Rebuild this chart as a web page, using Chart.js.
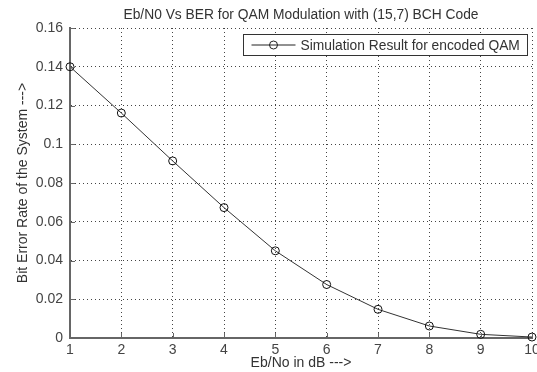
<!DOCTYPE html>
<html>
<head>
<meta charset="utf-8">
<script src="https://cdn.jsdelivr.net/npm/chart.js@4/dist/chart.umd.min.js"></script>
<style>
  html, body { margin: 0; padding: 0; background: #ffffff; }
  #wrap { width: 537px; height: 372px; }
</style>
</head>
<body>
<div id="wrap"><canvas id="c" width="537" height="372"></canvas></div>
<script>
const ebNoDb = [1, 2, 3, 4, 5, 6, 7, 8, 9, 10];
const berValues = [0.140, 0.1161, 0.0914, 0.0673, 0.0450, 0.0276, 0.0148, 0.0062, 0.0019, 0.0005];
const xTickLabels = ['1', '2', '3', '4', '5', '6', '7', '8', '9', '10'];
const yTickValues = [0, 0.02, 0.04, 0.06, 0.08, 0.1, 0.12, 0.14, 0.16];
const yTickLabels = ['0', '0.02', '0.04', '0.06', '0.08', '0.1', '0.12', '0.14', '0.16'];
const seriesLabel = 'Simulation Result for encoded QAM';
const chartTitle = 'Eb/N0 Vs BER for QAM Modulation with (15,7) BCH Code';
const xTitle = 'Eb/No in dB --->';
const yTitle = 'Bit Error Rate of the System --->';

const FONT = 'Arial, "Liberation Sans", sans-serif';
const TEXT = '#333333';

const extras = {
  id: 'extras',
  afterDraw(chart) {
    const ctx = chart.ctx;
    const a = chart.chartArea;
    const xs = chart.scales.x, ys = chart.scales.y;
    ctx.save();
    // inward tick marks (MATLAB style)
    ctx.strokeStyle = '#666666';
    ctx.lineWidth = 1;
    ctx.beginPath();
    ebNoDb.forEach(v => {
      const px = Math.round(xs.getPixelForValue(v)) + 0.5;
      ctx.moveTo(px, a.bottom);
      ctx.lineTo(px, a.bottom - 5);
    });
    yTickValues.forEach(v => {
      const py = Math.round(ys.getPixelForValue(v)) + 0.5;
      ctx.moveTo(a.left, py);
      ctx.lineTo(a.left + 5, py);
    });
    ctx.stroke();

    // title centred over the plot area
    ctx.fillStyle = TEXT;
    ctx.font = '13.8px ' + FONT;
    ctx.textAlign = 'center';
    ctx.textBaseline = 'alphabetic';
    ctx.fillText(chartTitle, (a.left + a.right) / 2, 19);

    // legend box inside the axes
    const x0 = 243.5, y0 = 34.5, w = 284, h = 21;
    ctx.fillStyle = '#ffffff';
    ctx.fillRect(x0, y0, w, h);
    ctx.strokeStyle = '#333333';
    ctx.lineWidth = 1;
    ctx.strokeRect(x0, y0, w, h);
    const cy = y0 + h / 2;
    ctx.strokeStyle = '#222222';
    ctx.beginPath();
    ctx.moveTo(x0 + 8, cy);
    ctx.lineTo(x0 + 52, cy);
    ctx.stroke();
    ctx.beginPath();
    ctx.arc(x0 + 30, cy, 4, 0, Math.PI * 2);
    ctx.stroke();
    ctx.fillStyle = TEXT;
    ctx.font = '13.8px ' + FONT;
    ctx.textBaseline = 'middle';
    ctx.textAlign = 'left';
    ctx.fillText(chart.data.datasets[0].label, x0 + 57, cy + 1);
    ctx.restore();
  }
};

new Chart(document.getElementById('c'), {
  type: 'line',
  data: {
    datasets: [{
      label: seriesLabel,
      data: ebNoDb.map((x, i) => ({ x: x, y: berValues[i] })),
      borderColor: '#333333',
      borderWidth: 1,
      pointRadius: 4,
      pointBorderWidth: 1,
      pointBackgroundColor: 'rgba(0,0,0,0)',
      pointBorderColor: '#111111',
      tension: 0,
      clip: false
    }]
  },
  options: {
    responsive: false,
    animation: false,
    devicePixelRatio: 1,
    layout: { padding: { left: 0, right: 5, top: 28, bottom: 0 } },
    plugins: {
      legend: { display: false },
      tooltip: { enabled: false },
      title: { display: false }
    },
    scales: {
      x: {
        type: 'linear',
        min: 1,
        max: 10,
        afterFit(scale) { scale.height = 34; scale.paddingLeft = 0; scale.paddingRight = 0; },
        afterBuildTicks(scale) { scale.ticks = ebNoDb.map(v => ({ value: v })); },
        ticks: {
          callback: (v, i) => xTickLabels[i],
          color: '#444444',
          font: { family: FONT, size: 14 },
          padding: 4,
          maxRotation: 0,
          autoSkip: false
        },
        grid: { color: '#444444', lineWidth: 1, drawTicks: false },
        border: { display: true, color: '#666666', width: 2, dash: [1, 3] },
        title: {
          display: true,
          text: xTitle,
          color: TEXT,
          font: { family: FONT, size: 14 },
          padding: { top: 0, bottom: 0.3 }
        }
      },
      y: {
        min: 0,
        max: 0.16,
        afterFit(scale) { scale.width = 70; },
        afterBuildTicks(scale) { scale.ticks = yTickValues.map(v => ({ value: v })); },
        ticks: {
          callback: (v, i) => yTickLabels[i],
          color: '#444444',
          font: { family: FONT, size: 14 },
          padding: 7
        },
        grid: { color: '#444444', lineWidth: 1, drawTicks: false },
        border: { display: true, color: '#666666', width: 2, dash: [1, 3] },
        title: {
          display: true,
          text: yTitle,
          color: TEXT,
          font: { family: FONT, size: 14 },
          padding: { top: 14.5, bottom: 0 }
        }
      }
    }
  },
  plugins: [extras]
});
</script>
</body>
</html>
